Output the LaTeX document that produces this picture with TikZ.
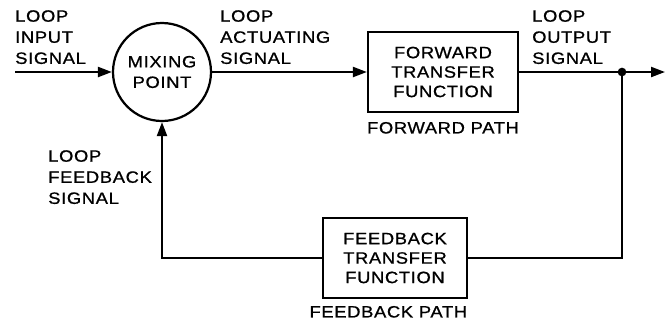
\documentclass[tikz,border=0pt]{standalone}
\usepackage{fontspec}
\setmainfont{Liberation Sans}[FakeStretch=1.12,LetterSpace=4,FakeBold=0.9]
\usetikzlibrary{arrows.meta,positioning}

\begin{document}
\begin{tikzpicture}[
        x=0.3mm, y=-0.3mm,
        block/.style={draw, line width=1.9pt, align=center, minimum width=45mm, minimum height=24mm, inner sep=0pt, font=\fontsize{14}{16.6}\selectfont},
        mixer/.style={draw, circle, line width=1.9pt, align=center, minimum size=29.4mm, inner sep=0pt, font=\fontsize{14}{17.5}\selectfont},
        lbl/.style={align=left, inner sep=0pt, anchor=north west, font=\fontsize{14}{18}\selectfont},
        pathlbl/.style={inner sep=0pt, font=\fontsize{14}{18}\selectfont},
        arrow/.style={-{Triangle[length=4.2mm, width=3mm]}, line width=1.9pt},
        wire/.style={line width=1.9pt}
    ]
        \useasboundingbox (0,0) rectangle (667,324);

        \node[mixer] (mix) at (162,72) {MIXING\\POINT};
        \node[block] (fwd) at (443,72) {FORWARD\\TRANSFER\\FUNCTION};
        \node[block, minimum width=43.2mm] (fb) at (395,258) {FEEDBACK\\TRANSFER\\FUNCTION};
        \node[pathlbl, below=2.6mm of fwd] (fwdpath) {FORWARD PATH};
        \node[pathlbl, below=2mm of fb, xshift=-2mm] (fbpath) {FEEDBACK PATH};

        \coordinate (in) at (15,72);
        \coordinate (out) at (665,72);
        \coordinate (branch) at (622,72);
        \coordinate (fbright) at (622,258);
        \coordinate (fbleft) at (162,258);

        \draw[arrow] (in) -- (mix);
        \draw[arrow] (mix) -- (fwd);
        \draw[arrow] (fwd) -- (out);
        \draw[wire] (branch) -- (fbright) -- (fb);
        \draw[arrow] (fb) -- (fbleft) -- (mix);
        \fill (branch) circle (1.3mm);

        \node[lbl] (inlbl) at (15,10) {LOOP\\INPUT\\SIGNAL};
        \node[lbl] (actlbl) at (220,10) {LOOP\\ACTUATING\\SIGNAL};
        \node[lbl] (outlbl) at (532,10) {LOOP\\OUTPUT\\SIGNAL};
        \node[lbl] (fblbl) at (48,150) {LOOP\\FEEDBACK\\SIGNAL};
    \end{tikzpicture}
\end{document}
